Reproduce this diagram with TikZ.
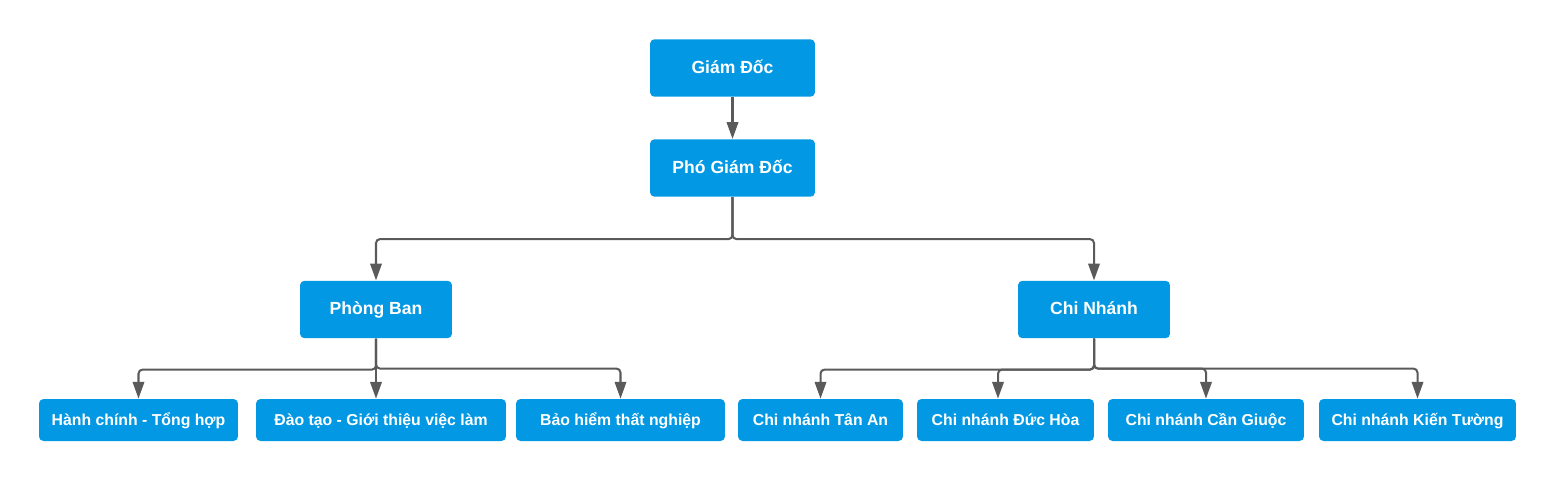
\documentclass[tikz,border=0pt]{standalone}
\usepackage{fontspec}
\setmainfont{Liberation Sans}
\usetikzlibrary{arrows.meta}
\definecolor{boxblue}{RGB}{3,152,227}
\definecolor{linegray}{RGB}{90,90,90}
\begin{document}
\begin{tikzpicture}[x=0.02cm,y=-0.02cm,
  box/.style={draw=none,fill=boxblue,rounded corners=0.09cm,text=white,font=\bfseries\fontsize{10}{12}\selectfont,inner sep=0pt,text height=1.6ex,text depth=0.5ex,minimum height=1.15cm},
  leaf/.style={box,font=\bfseries\fontsize{9}{11}\selectfont,minimum height=0.84cm},
  conn/.style={draw=linegray,line width=1.15pt,rounded corners=0.08cm,-{Triangle[length=9.5pt,width=6.5pt]}}]
\useasboundingbox (0,0) rectangle (1555,480);
\node[box,minimum width=3.3cm] (gd) at (732.5,68) {Giám Đốc};
\node[box,minimum width=3.3cm] (pgd) at (732.5,168) {Phó Giám Đốc};
\node[box,minimum width=3.04cm] (pb) at (376,309.5) {Phòng Ban};
\node[box,minimum width=3.04cm] (cn) at (1094,309.5) {Chi Nhánh};

\node[leaf,minimum width=3.98cm] (hc) at (138.5,420) {Hành chính - Tổng hợp};
\node[leaf,minimum width=5.0cm] (dt) at (381,420) {Đào tạo - Giới thiệu việc làm};
\node[leaf,minimum width=4.18cm] (bh) at (620.5,420) {Bảo hiểm thất nghiệp};
\node[leaf,minimum width=3.3cm] (ta) at (820.5,420) {Chi nhánh Tân An};
\node[leaf,minimum width=3.54cm] (dh) at (1005.5,420) {Chi nhánh Đức Hòa};
\node[leaf,minimum width=3.92cm] (cg) at (1206,420) {Chi nhánh Cần Giuộc};
\node[leaf,minimum width=3.94cm] (kt) at (1417.5,420) {Chi nhánh Kiến Tường};

\path[conn] (gd) -- (pgd);
\path[conn] (pgd.south) -- ++(0,42) -| (pb.north);
\path[conn] (pgd.south) -- ++(0,42) -| (cn.north);

\path[conn] (pb.south) -- ++(0,31) -| (hc.north);
\path[conn] (pb.south) -- (pb.south |- dt.north);
\path[conn] (pb.south) -- ++(0,30) -| (bh.north);

\path[conn] (cn.south) -- ++(0,31) -| (ta.north);
\path[conn] (cn.south) -- ++(0,31) -| ([xshift=-0.15cm]dh.north);
\path[conn] (cn.south) -- ++(0,30) -| (cg.north);
\path[conn] (cn.south) -- ++(0,30) -| (kt.north);
\end{tikzpicture}
\end{document}
